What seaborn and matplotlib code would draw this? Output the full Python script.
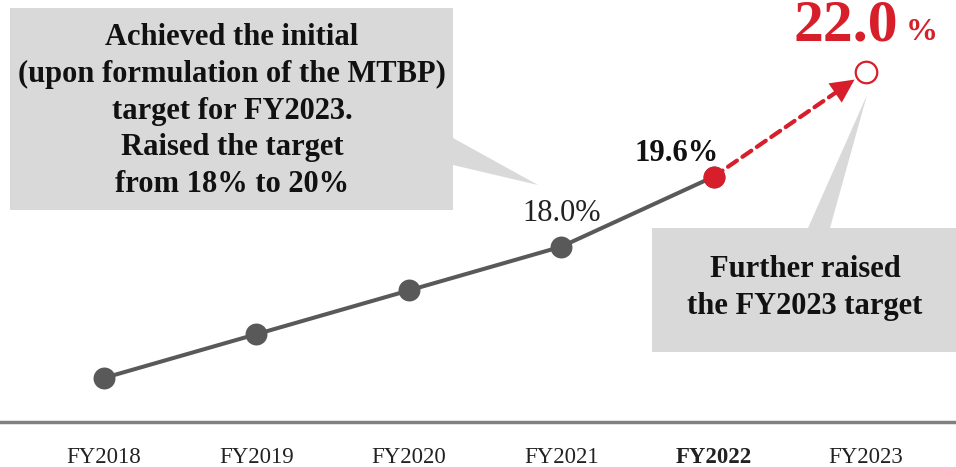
import numpy as np
import pandas as pd
import seaborn as sns
import matplotlib.pyplot as plt
from matplotlib.patches import Polygon

# data
years = ['FY2018', 'FY2019', 'FY2020', 'FY2021', 'FY2022', 'FY2023']
actual = [15.0, 16.0, 17.0, 18.0, 19.6]
target = 22.0

GRAY = '#595959'
RED = '#d71f2b'
BOX = '#d9d9d9'

sns.set_theme(style='white')
plt.rcParams['font.family'] = ['Liberation Serif', 'DejaVu Serif']

W, H = 956, 467
fig = plt.figure(figsize=(W / 100, H / 100), dpi=100)
ax = fig.add_axes([0, 45 / H, 1, 422 / H])

# helpers: reference pixel -> figure fraction
def fx(x):
    return x / W

def fy(y):
    return 1 - y / H

def poly(pts):
    return [(fx(x), fy(y)) for x, y in pts]

df = pd.DataFrame({'year': np.arange(len(actual)), 'ratio': actual})
sns.lineplot(data=df, x='year', y='ratio', color=GRAY, lw=2.9, marker='o',
             markersize=15.8, markeredgewidth=0, ax=ax, zorder=3)

# latest actual in red, target as open circle
ax.plot(df['year'].iloc[-1], actual[-1], 'o', color=RED, ms=15.8, mew=0, zorder=4)
ax.plot(len(years) - 1, target, 'o', mfc='white', mec=RED, mew=1.6, ms=15.5, zorder=4)

# dashed shaft, then a solid head on top
start = (len(actual) - 1, actual[-1])
end = (len(years) - 1, target)
ax.annotate('', xy=end, xytext=start,
            arrowprops=dict(arrowstyle='-', color=RED, lw=3,
                            linestyle=(0, (2.6, 1.6)), shrinkA=0, shrinkB=22),
            zorder=2)
ax.annotate('', xy=end, xytext=start,
            arrowprops=dict(arrowstyle='-|>,head_length=0.85,head_width=0.42',
                            mutation_scale=20, fc=RED, ec='none', lw=0,
                            shrinkA=0, shrinkB=10),
            zorder=2)

# value labels
ax.annotate(f'{actual[3]:.1f}%', (3, actual[3]), xytext=(0, 24),
            textcoords='offset points', ha='center', va='center',
            fontsize=22, color='#222222')
ax.annotate(f'{actual[4]:.1f}%', (4, actual[4]), xytext=(-26.5, 17),
            textcoords='offset points', ha='center', va='center',
            fontsize=22, fontweight='bold', color='#111111')
ax.annotate(f'{target:.1f}', (5, target), xytext=(23, 22.5),
            textcoords='offset points', ha='right', va='baseline',
            fontsize=43, fontweight='bold', color=RED, annotation_clip=False)
ax.annotate('%', (5, target), xytext=(28.5, 22.5),
            textcoords='offset points', ha='left', va='baseline',
            fontsize=23, fontweight='bold', color=RED, annotation_clip=False)

# callout boxes
box1 = Polygon(poly([(10, 8), (453, 8), (453, 138), (538, 185), (453, 165),
                     (453, 210), (10, 210)]),
               closed=True, transform=fig.transFigure, fc=BOX, ec='none', zorder=1)
box2 = Polygon(poly([(652, 228), (808, 228), (867, 95), (830, 228), (960, 228),
                     (960, 352), (652, 352)]),
               closed=True, transform=fig.transFigure, fc=BOX, ec='none', zorder=1)
fig.patches.extend([box1, box2])

fig.text(fx(232), fy(111),
         'Achieved the initial\n(upon formulation of the MTBP)\ntarget for FY2023.\n'
         'Raised the target\nfrom 18% to 20%',
         ha='center', va='center', fontsize=22, fontweight='bold',
         linespacing=1.34, color='#111111')
fig.text(fx(805), fy(288), 'Further raised\nthe FY2023 target',
         ha='center', va='center', fontsize=22, fontweight='bold',
         linespacing=1.32, color='#111111')

ax.set_xlim(-104 / 152.4, (W - 104) / 152.4)
ax.set_ylim(13.993, 23.639)
ax.set_xticks(range(len(years)))
ax.set_xticklabels(years, fontsize=16.5, color='#222222')
ax.get_xticklabels()[4].set_fontweight('bold')
ax.set_yticks([])
ax.set_xlabel('')
ax.set_ylabel('')
ax.tick_params(axis='x', length=0, pad=18)
for s in ['left', 'top', 'right']:
    ax.spines[s].set_visible(False)
ax.spines['bottom'].set_color('#808080')
ax.spines['bottom'].set_linewidth(2.5)
ax.patch.set_alpha(0)

fig.savefig('out.png', dpi=100)
